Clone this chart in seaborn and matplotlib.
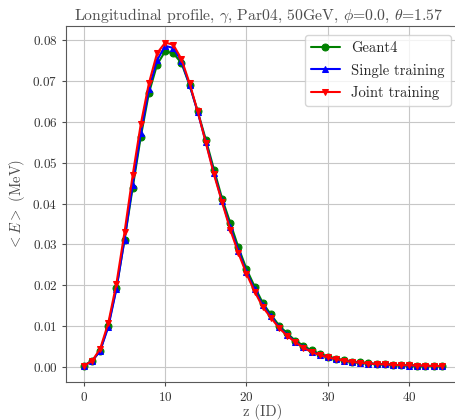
"""
Longitudinal shower profile: Geant4 vs single / joint training
"""

import numpy as np
import pandas as pd
import matplotlib
matplotlib.use("Agg")
import matplotlib.pyplot as plt
import seaborn as sns

# layer index along z
z_layers = list(range(45))

# mean energy per layer (MeV)
geant4 = [0.0004, 0.0015, 0.0040, 0.0102, 0.0193, 0.0312, 0.0438, 0.0563, 0.0670, 0.0739,
          0.0772, 0.0767, 0.0743, 0.0689, 0.0625, 0.0556, 0.0483, 0.0412, 0.0353, 0.0293,
          0.0240, 0.0197, 0.0157, 0.0129, 0.0102, 0.0083, 0.0065, 0.0053, 0.0041, 0.0033,
          0.0026, 0.0021, 0.0017, 0.0014, 0.0012, 0.0010, 0.0008, 0.0007, 0.0006, 0.0005,
          0.0005, 0.0004, 0.0004, 0.0003, 0.0003]
single = [0.0004, 0.0015, 0.0040, 0.0098, 0.0191, 0.0312, 0.0446, 0.0572, 0.0680, 0.0750,
          0.0785, 0.0780, 0.0747, 0.0690, 0.0623, 0.0550, 0.0475, 0.0405, 0.0342, 0.0285,
          0.0232, 0.0190, 0.0151, 0.0124, 0.0098, 0.0079, 0.0062, 0.0049, 0.0038, 0.0031,
          0.0024, 0.0020, 0.0016, 0.0013, 0.0011, 0.0009, 0.0008, 0.0007, 0.0006, 0.0005,
          0.0004, 0.0004, 0.0003, 0.0003, 0.0003]
joint = [0.0004, 0.0015, 0.0045, 0.0108, 0.0204, 0.0330, 0.0469, 0.0594, 0.0694, 0.0767,
         0.0793, 0.0788, 0.0753, 0.0694, 0.0625, 0.0548, 0.0471, 0.0403, 0.0336, 0.0279,
         0.0228, 0.0185, 0.0147, 0.0121, 0.0096, 0.0077, 0.0061, 0.0048, 0.0037, 0.0030,
         0.0024, 0.0020, 0.0016, 0.0013, 0.0011, 0.0009, 0.0008, 0.0007, 0.0006, 0.0005,
         0.0005, 0.0004, 0.0004, 0.0003, 0.0003]

sns.set_style("whitegrid", {"xtick.bottom": True, "ytick.left": True,
                            "axes.edgecolor": "0.35", "grid.color": "0.78"})
plt.rcParams["font.family"] = "serif"
plt.rcParams["font.serif"] = ["cmr10"]
plt.rcParams["mathtext.fontset"] = "cm"
plt.rcParams["axes.formatter.use_mathtext"] = True

fig = plt.figure(figsize=(4.55, 4.2), dpi=100)
ax = fig.add_axes([0.145, 0.09, 0.865, 0.847])

series = [("Geant4", geant4, "green", "o"),
          ("Single training", single, "blue", "^"),
          ("Joint training", joint, "red", "v")]
for name, vals, col, mk in series:
    sns.lineplot(x=z_layers, y=vals, ax=ax, color=col, marker=mk, markersize=5,
                 markeredgecolor=col, linewidth=1.5, label=name)

ax.set_xticks([0, 10, 20, 30, 40])
ax.set_yticks(np.arange(0, 0.081, 0.01))
ax.tick_params(labelsize=9.5, colors="0.3", length=3, pad=3)
for lab in ax.get_xticklabels() + ax.get_yticklabels():
    lab.set_color("0.2")
ax.set_xlabel("z (ID)", fontsize=10.5, color="0.3", labelpad=0)
ax.set_ylabel(r"$<E>$ (MeV)", fontsize=10.5, color="0.3")
ax.set_title(r"Longitudinal profile, $\gamma$, Par04, 50GeV, $\phi$=0.0, $\theta$=1.57",
             fontsize=11.3, color="0.3", pad=5, x=0.49)
ax.legend(loc="upper right", fontsize=10.5, labelspacing=0.6, framealpha=0.8,
          borderaxespad=0.6)

fig.savefig("out.png", dpi=100)
